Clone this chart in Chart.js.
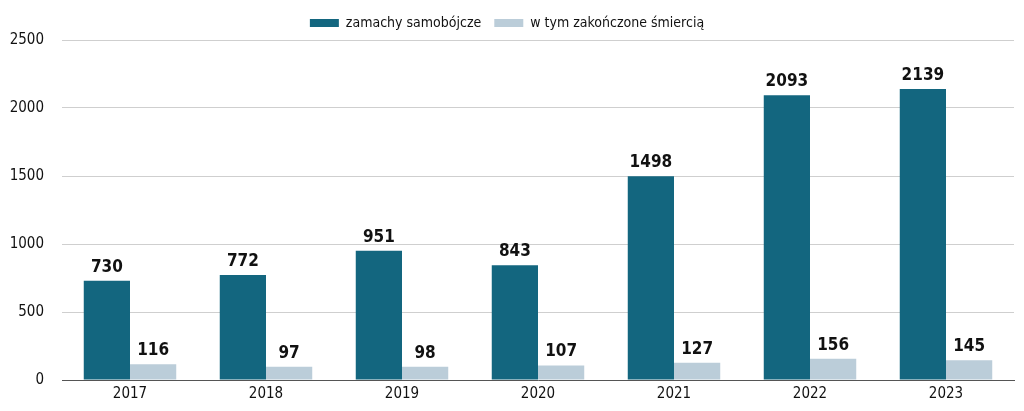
<!DOCTYPE html>
<html>
<head>
<meta charset="utf-8">
<script src="https://cdn.jsdelivr.net/npm/chart.js@4.4.1/dist/chart.umd.min.js"></script>
<style>
  html, body { margin: 0; padding: 0; background: #fff; }
  #wrap { width: 1024px; height: 411px; position: relative; }
</style>
</head>
<body>
<div id="wrap"><canvas id="c"></canvas></div>
<script>
const years = ['2017', '2018', '2019', '2020', '2021', '2022', '2023'];
const attempts = [730, 772, 951, 843, 1498, 2093, 2139];
const deaths = [116, 97, 98, 107, 127, 156, 145];
const seriesNames = ['zamachy samobójcze', 'w tym zakończone śmiercią'];
const yTicks = [0, 500, 1000, 1500, 2000, 2500];

const FONT = "'Liberation Sans Narrow', 'DejaVu Sans Condensed', 'Arial Narrow', sans-serif";

const valueLabels = {
  id: 'valueLabels',
  afterDatasetsDraw(chart) {
    const ctx = chart.ctx;
    ctx.save();
    ctx.font = 'bold 17px ' + FONT;
    ctx.fillStyle = '#111';
    ctx.textAlign = 'center';
    ctx.textBaseline = 'bottom';
    chart.data.datasets.forEach((ds, i) => {
      const meta = chart.getDatasetMeta(i);
      meta.data.forEach((bar, j) => {
        ctx.fillText(String(ds.data[j]), bar.x, bar.y - 5);
      });
    });
    ctx.restore();
  }
};

new Chart(document.getElementById('c'), {
  type: 'bar',
  data: {
    labels: years,
    datasets: [
      { label: seriesNames[0], data: attempts, backgroundColor: '#13667F', borderColor: '#13667F', borderWidth: 0 },
      { label: seriesNames[1], data: deaths, backgroundColor: '#BBCDD9', borderColor: '#BBCDD9', borderWidth: 0 }
    ]
  },
  options: {
    responsive: true,
    maintainAspectRatio: false,
    animation: false,
    devicePixelRatio: 1,
    layout: { padding: { left: 0, right: 10, top: 3, bottom: 3 } },
    datasets: { bar: { barPercentage: 1.0, categoryPercentage: 0.68 } },
    plugins: {
      tooltip: { enabled: false },
      legend: {
        position: 'top',
        labels: {
          boxWidth: 29,
          boxHeight: 8,
          padding: 13,
          color: '#111',
          font: { family: FONT, size: 14 }
        }
      }
    },
    scales: {
      x: {
        grid: { display: false, drawTicks: false },
        border: { display: true, color: '#555', width: 1 },
        ticks: { color: '#111', font: { family: FONT, size: 15 }, padding: 5 }
      },
      y: {
        min: 0,
        max: 2500,
        afterBuildTicks(axis) { axis.ticks = yTicks.map(v => ({ value: v })); },
        afterFit(axis) { axis.width = 62; },
        grid: { color: '#cfcfcf', lineWidth: 1, drawTicks: false },
        border: { display: false },
        ticks: {
          color: '#111',
          font: { family: FONT, size: 15 },
          padding: 18,
          callback: (v) => String(v)
        }
      }
    }
  },
  plugins: [valueLabels]
});
</script>
</body>
</html>
